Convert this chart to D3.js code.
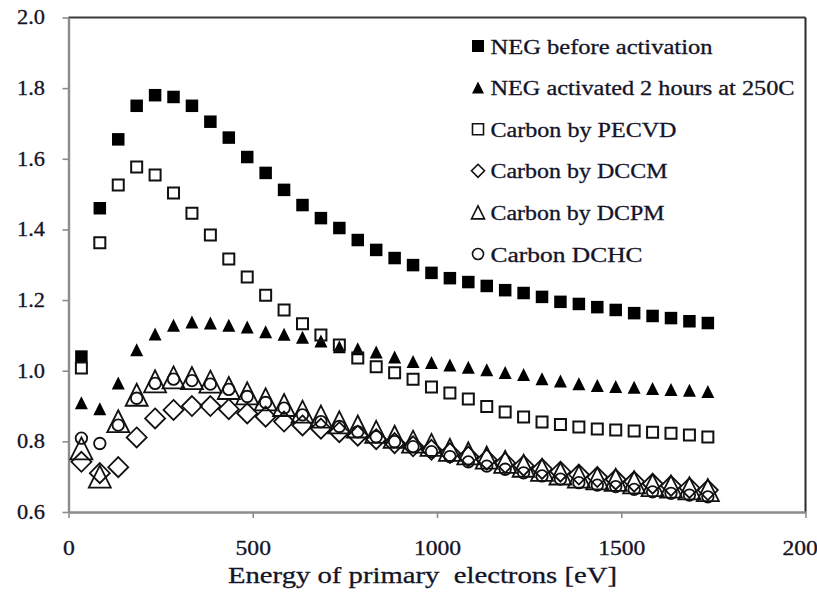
<!DOCTYPE html>
<html>
<head>
<meta charset="utf-8">
<script src="https://cdn.jsdelivr.net/npm/d3@7"></script>
<style>
  body { margin: 0; background: #fff; }
  svg { display: block; }
  svg text { font-family: "Liberation Serif", "Times New Roman", Times, serif; }
</style>
</head>
<body>
<div id="chart"></div>
<script>
// primary electron energy (eV)
const energy = [35, 85, 135, 185, 235, 285, 335, 385, 435, 485, 535, 585, 635, 685, 735, 785, 835, 885,
    935, 985, 1035, 1085, 1135, 1185, 1235, 1285, 1335, 1385, 1435, 1485, 1535, 1585, 1635, 1685, 1735];

const negBefore = [1.04, 1.46, 1.655, 1.75, 1.78, 1.775, 1.75, 1.705, 1.66, 1.605, 1.56, 1.512, 1.469, 1.432,
    1.404, 1.37, 1.342, 1.319, 1.299, 1.277, 1.262, 1.251, 1.24, 1.228, 1.22, 1.209, 1.195, 1.189, 1.18,
    1.172, 1.163, 1.155, 1.149, 1.14, 1.135];
const negActivated = [0.909, 0.892, 0.965, 1.059, 1.104, 1.129, 1.138, 1.135, 1.129, 1.124, 1.11, 1.103, 1.095,
    1.084, 1.068, 1.062, 1.053, 1.039, 1.026, 1.023, 1.016, 1.01, 1.003, 0.995, 0.989, 0.977, 0.971, 0.963,
    0.958, 0.955, 0.953, 0.95, 0.947, 0.945, 0.941];
const pecvd = [1.008, 1.362, 1.526, 1.577, 1.554, 1.503, 1.446, 1.384, 1.316, 1.265, 1.214, 1.172, 1.133, 1.101,
    1.073, 1.036, 1.011, 0.994, 0.976, 0.954, 0.937, 0.92, 0.899, 0.883, 0.869, 0.855, 0.848, 0.841, 0.835,
    0.832, 0.829, 0.826, 0.823, 0.818, 0.812];
const dccm = [0.742, 0.71, 0.727, 0.811, 0.865, 0.889, 0.9, 0.9, 0.891, 0.879, 0.87, 0.856, 0.845, 0.836, 0.826,
    0.816, 0.806, 0.795, 0.786, 0.776, 0.767, 0.757, 0.748, 0.739, 0.731, 0.722, 0.714, 0.706, 0.699, 0.692,
    0.686, 0.68, 0.674, 0.668, 0.662];
const dcpm = [0.78, 0.7, 0.857, 0.932, 0.97, 0.981, 0.979, 0.969, 0.951, 0.936, 0.919, 0.903, 0.884, 0.87, 0.854,
    0.842, 0.827, 0.813, 0.799, 0.79, 0.776, 0.766, 0.754, 0.742, 0.731, 0.719, 0.709, 0.7, 0.695, 0.691,
    0.684, 0.676, 0.672, 0.667, 0.662];
const dchc = [0.809, 0.794, 0.846, 0.922, 0.964, 0.976, 0.972, 0.962, 0.947, 0.927, 0.91, 0.894, 0.875, 0.856,
    0.842, 0.827, 0.813, 0.799, 0.785, 0.771, 0.757, 0.742, 0.73, 0.721, 0.711, 0.702, 0.693, 0.683, 0.676,
    0.672, 0.664, 0.657, 0.653, 0.648, 0.643];

const seriesNames = ["NEG before activation", "NEG activated 2 hours at 250C", "Carbon by PECVD",
    "Carbon by DCCM", "Carbon by DCPM", "Carbon DCHC"];
const xTicks = [0, 500, 1000, 1500, 2000];
const yTicks = [0.6, 0.8, 1.0, 1.2, 1.4, 1.6, 1.8, 2.0];

const width = 817, height = 599;
const plotLeft = 68.5, plotRight = 805.5, plotTop = 17.5, plotBottom = 512;
const serif = "'Liberation Serif', 'Times New Roman', Times, serif";
const textColor = "#141428";

const series = [
    { name: seriesNames[0], values: negBefore, shape: "square", filled: true, size: 12.5, legendSize: 12 },
    { name: seriesNames[1], values: negActivated, shape: "triangle", filled: true, size: 13, legendSize: 12 },
    { name: seriesNames[2], values: pecvd, shape: "square", filled: false, size: 11, legendSize: 11 },
    { name: seriesNames[3], values: dccm, shape: "diamond", filled: false, size: 20, legendSize: 13 },
    { name: seriesNames[4], values: dcpm, shape: "triangle", filled: false, size: 22, legendSize: 13 },
    { name: seriesNames[5], values: dchc, shape: "circle", filled: false, size: 11.5, legendSize: 11 }
];

function markerPath(shape, s) {
    const h = s / 2;
    if (shape === "square") return `M${-h},${-h}H${h}V${h}H${-h}Z`;
    if (shape === "triangle") return `M0,${-h}L${h},${h}L${-h},${h}Z`;
    if (shape === "diamond") return `M0,${-h}L${h},0L0,${h}L${-h},0Z`;
    return `M${h},0A${h},${h} 0 1,1 ${-h},0A${h},${h} 0 1,1 ${h},0Z`;
}

const x = d3.scaleLinear().domain([0, 2000]).range([plotLeft, plotRight]);
const y = d3.scaleLinear().domain([0.6, 2.0]).range([plotBottom, plotTop]);

const svg = d3.select("#chart")
    .append("svg")
    .attr("width", width)
    .attr("height", height);

// plot frame: top and right dark, axes grey
svg.append("line")
    .attr("x1", plotLeft).attr("x2", plotRight).attr("y1", plotTop).attr("y2", plotTop)
    .attr("stroke", "#3a3a3a").attr("stroke-width", 2.2);
svg.append("line")
    .attr("x1", plotRight).attr("x2", plotRight).attr("y1", plotTop).attr("y2", plotBottom)
    .attr("stroke", "#2a2a2a").attr("stroke-width", 2);

const xAxis = svg.append("g")
    .attr("transform", `translate(0,${plotBottom})`)
    .call(d3.axisBottom(x).tickValues(xTicks).tickFormat(d3.format("d")).tickSize(6).tickPadding(23).tickSizeOuter(0));

const yAxis = svg.append("g")
    .attr("transform", `translate(${plotLeft},0)`)
    .call(d3.axisLeft(y).tickValues(yTicks).tickFormat(d3.format(".1f")).tickSize(6).tickPadding(15).tickSizeOuter(0));

[xAxis, yAxis].forEach(function(ax) {
    ax.attr("font-family", serif);
    ax.select(".domain").attr("stroke", "#8c8c8c").attr("stroke-width", 2.4);
    ax.selectAll(".tick line").attr("stroke", "#8c8c8c").attr("stroke-width", 1.6);
    ax.selectAll(".tick text")
        .attr("fill", textColor)
        .attr("stroke", textColor)
        .attr("stroke-width", 0.3)
        .attr("font-size", "20px")
        .style("font-family", serif);
});
xAxis.selectAll(".tick text").attr("transform", "scale(1.18,1)");
yAxis.selectAll(".tick text").attr("transform", "scale(1.12,1)");

svg.append("text")
    .attr("x", 228)
    .attr("y", 583)
    .attr("font-size", "24px")
    .attr("fill", textColor)
    .attr("stroke", textColor)
    .attr("stroke-width", 0.3)
    .attr("textLength", 389)
    .attr("lengthAdjust", "spacingAndGlyphs")
    .style("font-family", serif)
    .style("white-space", "pre")
    .text("Energy of primary  electrons [eV]");

// markers, drawn in series order
series.forEach(function(s) {
    svg.append("g")
        .selectAll("path")
        .data(s.values)
        .enter()
        .append("path")
        .attr("d", markerPath(s.shape, s.size))
        .attr("transform", (d, i) => `translate(${x(energy[i])},${y(d)})`)
        .attr("fill", s.filled ? "#000" : "none")
        .attr("stroke", s.filled ? "none" : "#111")
        .attr("stroke-width", s.shape === "square" ? 2 : 1.8);
});

// legend (no box)
const legendLengths = [222, 304, 186, 177, 174, 152];
const legend = svg.append("g");
series.forEach(function(s, i) {
    const cy = 46 + i * 41.6;
    legend.append("path")
        .attr("d", markerPath(s.shape, s.legendSize))
        .attr("transform", `translate(478,${cy})`)
        .attr("fill", s.filled ? "#000" : "none")
        .attr("stroke", s.filled ? "none" : "#111")
        .attr("stroke-width", 1.6);
    legend.append("text")
        .attr("x", 490.5)
        .attr("y", cy + 7.5)
        .attr("font-size", "20px")
        .attr("fill", textColor)
        .attr("stroke", textColor)
        .attr("stroke-width", 0.3)
        .attr("textLength", legendLengths[i])
        .attr("lengthAdjust", "spacingAndGlyphs")
        .style("font-family", serif)
        .text(s.name);
});
</script>
</body>
</html>
